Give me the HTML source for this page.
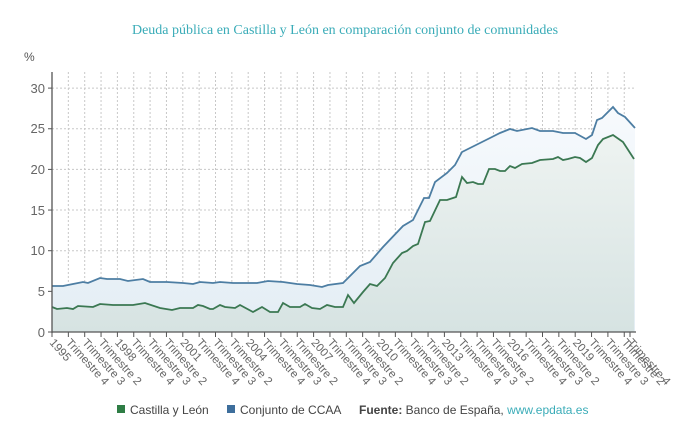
<!DOCTYPE html>
<html><head><meta charset="utf-8"><style>
body{margin:0;background:#fff;width:690px;height:429px;overflow:hidden}
</style></head><body>
<svg width="690" height="429" xmlns="http://www.w3.org/2000/svg" font-family="Liberation Sans, sans-serif">
<defs>
<linearGradient id="gb" x1="0" y1="0" x2="0" y2="1"><stop offset="0" stop-color="#f7fafd"/><stop offset="1" stop-color="#e3edf4"/></linearGradient>
<linearGradient id="gg" x1="0" y1="0" x2="0" y2="1"><stop offset="0" stop-color="#eef3f1"/><stop offset="1" stop-color="#d6e3e2"/></linearGradient>
</defs>
<text x="345" y="34" text-anchor="middle" font-family="Liberation Serif, serif" font-size="14" fill="#3aacb8">Deuda pública en Castilla y León en comparación conjunto de comunidades</text>
<text x="24" y="61" font-size="12" fill="#555">%</text>
<g id="grid" stroke="#c8c8c8" stroke-dasharray="2,2" stroke-width="1"></g>
<g font-size="13" fill="#666" text-anchor="end">
<text x="45" y="337">0</text><text x="45" y="296">5</text><text x="45" y="255">10</text><text x="45" y="215">15</text><text x="45" y="174">20</text><text x="45" y="133">25</text><text x="45" y="93">30</text>
</g>
<path id="ab" fill="url(#gb)"/>
<path id="ag" fill="url(#gg)"/>
<path id="lb" fill="none" stroke="#4d7ea3" stroke-width="1.8"/>
<path id="lg" fill="none" stroke="#3b7852" stroke-width="1.8"/>
<line x1="52" y1="72" x2="52" y2="333" stroke="#555" stroke-width="1.3"/>
<line x1="52" y1="332" x2="636" y2="332" stroke="#555" stroke-width="1.3"/>
<g id="ticks"></g>
<g id="xl" font-size="11.5" fill="#666"></g>
<g font-size="12" fill="#444">
<rect x="117" y="405" width="8" height="8" fill="#2e7d45"/><text x="130" y="414">Castilla y León</text>
<rect x="227" y="405" width="8" height="8" fill="#3d6e9c"/><text x="240" y="414">Conjunto de CCAA</text>
<text x="359" y="414"><tspan font-weight="bold">Fuente:</tspan> Banco de España, <tspan fill="#3aacb8">www.epdata.es</tspan></text>
</g>
</svg>
<script>
var B=[[52,286],[63,286],[73,284],[83,282],[88,283],[100,278],[107,279],[120,279],[128,281],[143,279],[150,282],[167,282],[183,283],[193,284],[200,282],[213,283],[220,282],[233,283],[250,283],[257,283],[268,281],[283,282],[297,284],[310,285],[322,287],[328,285],[343,283],[360,266],[370,262],[383,247],[403,226],[413,220],[424,198],[429,198],[435,182],[447,173],[455,165],[462,152],[480,143],[490,138],[500,133],[510,129],[517,131],[532,128],[540,131],[553,131],[563,133],[575,133],[586,139],[592,135],[597,120],[602,118],[613,107],[618,113],[625,117],[635,128]];
var G=[[52,307],[57,309],[67,308],[73,309],[78,306],[93,307],[100,304],[113,305],[133,305],[145,303],[160,308],[172,310],[180,308],[193,308],[198,305],[203,306],[210,309],[213,309],[220,305],[225,307],[235,308],[240,305],[253,312],[262,307],[270,312],[278,312],[283,303],[290,307],[300,307],[305,304],[312,308],[320,309],[327,305],[335,307],[343,307],[348,295],[354,303],[363,292],[370,284],[377,286],[385,278],[393,263],[402,253],[407,251],[413,246],[418,244],[425,222],[430,221],[440,200],[447,200],[456,197],[462,177],[467,183],[473,182],[478,184],[483,184],[489,169],[495,169],[500,171],[505,171],[510,166],[515,168],[522,164],[532,163],[540,160],[553,159],[558,157],[563,160],[568,159],[575,157],[580,158],[586,162],[592,158],[598,145],[603,139],[613,135],[623,142],[634,159]];
function p(a){return a.map(function(q,i){return (i?'L':'M')+q[0]+','+q[1]}).join('')}
function ar(a){return p(a)+'L'+a[a.length-1][0]+',332L52,332Z'}
document.getElementById('lb').setAttribute('d',p(B));document.getElementById('lg').setAttribute('d',p(G));
document.getElementById('ab').setAttribute('d',ar(B));document.getElementById('ag').setAttribute('d',ar(G));
var ns='http://www.w3.org/2000/svg',g=document.getElementById('grid'),t=document.getElementById('ticks'),xl=document.getElementById('xl');
function el(par,n,at,tx){var e=document.createElementNS(ns,n);for(var k in at)e.setAttribute(k,at[k]);if(tx)e.textContent=tx;par.appendChild(e);}
[0,5,10,15,20,25,30].forEach(function(v){var y=332-v*8.13;if(v)el(g,'line',{x1:52,x2:636,y1:y,y2:y});el(t,'line',{x1:48,x2:52,y1:y,y2:y,stroke:'#555'});});
var labs=[];var yrs=[1995,1998,2001,2004,2007,2010,2013,2016,2019];
yrs.forEach(function(y){labs.push(''+y,'Trimestre 4','Trimestre 3','Trimestre 2');});
labs.push('Trimestre 4');
var step=16.35;
labs.forEach(function(l,i){var x=i<36?52+i*step:630;
 if(i>0&&i<36)el(g,'line',{x1:x,x2:x,y1:72,y2:332});
 el(t,'line',{x1:x,x2:x,y1:332,y2:337,stroke:'#555'});
 el(xl,'text',{x:0,y:0,transform:'translate('+(x-3)+',343) rotate(48)'},l);});
</script>
</body></html>
